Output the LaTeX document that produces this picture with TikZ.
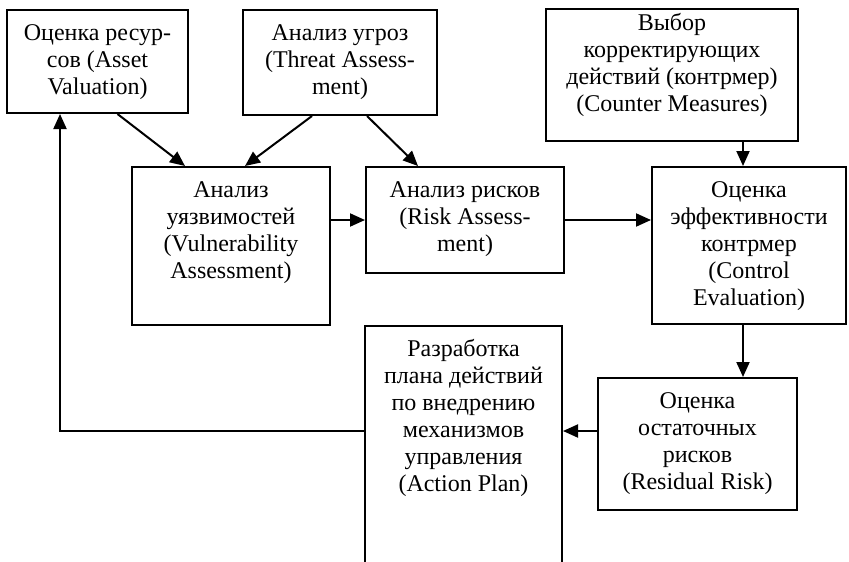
\documentclass[tikz,border=0pt]{standalone}
\usepackage{fontspec}
\setmainfont{Liberation Serif}
\usetikzlibrary{arrows.meta}
\newcommand\boxfont{\fontsize{24}{27}\selectfont}
\begin{document}
\begin{tikzpicture}[x=1pt,y=-1pt,
  block/.style={draw, rectangle, line width=2pt, inner sep=0pt},
  caption/.style={anchor=north, align=center, inner sep=0pt, font=\boxfont},
  link/.style={line width=2pt, -{Triangle[length=15pt,width=13pt]}}]
\useasboundingbox (0,0) rectangle (849,562);

% boxes
\node[block, minimum width=181pt, minimum height=103pt] (asset) at (97.5,61.5) {};
\node[block, minimum width=194pt, minimum height=105pt] (threat) at (340,62.5) {};
\node[block, minimum width=252pt, minimum height=132pt] (cm) at (672,75) {};
\node[block, minimum width=198pt, minimum height=158pt] (vuln) at (231,246) {};
\node[block, minimum width=198pt, minimum height=106pt] (risk) at (465,220) {};
\node[block, minimum width=194pt, minimum height=157pt] (ctrl) at (749,245.5) {};
\node[block, minimum width=197pt, minimum height=260pt] (plan) at (463.5,456) {};
\node[block, minimum width=199pt, minimum height=132pt] (res) at (697.5,444) {};

% captions
\node[caption] (asset-t) at ([yshift=-12pt]asset.north) {\strut Оценка ресур-\\сов (Asset\\Valuation)};
\node[caption] (threat-t) at ([yshift=-12pt]threat.north) {\strut Анализ угроз\\(Threat Assess-\\ment)};
\node[caption] (cm-t) at ([yshift=-3pt]cm.north) {\strut Выбор\\корректирующих\\действий (контрмер)\\(Counter Measures)};
\node[caption] (vuln-t) at ([yshift=-12pt]vuln.north) {\strut Анализ\\уязвимостей\\(Vulnerability\\Assessment)};
\node[caption] (risk-t) at ([yshift=-12pt]risk.north) {\strut Анализ рисков\\(Risk Assess-\\ment)};
\node[caption] (ctrl-t) at ([yshift=-12pt]ctrl.north) {\strut Оценка\\эффективности\\контрмер\\(Control\\Evaluation)};
\node[caption] (plan-t) at ([yshift=-12pt]plan.north) {\strut Разработка\\плана действий\\по внедрению\\механизмов\\управления\\(Action Plan)};
\node[caption] (res-t) at ([yshift=-12pt]res.north) {\strut Оценка\\остаточных\\рисков\\(Residual Risk)};

% connectors
\draw[link] ([xshift=20pt]asset.south) -- ([xshift=-46pt]vuln.north);
\draw[link] ([xshift=-28pt]threat.south) -- ([xshift=14pt]vuln.north);
\draw[link] ([xshift=27pt]threat.south) -- ([xshift=-47pt]risk.north);
\draw[link] (risk.west -| vuln.east) -- (risk.west);
\draw[link] (risk.east) -- (risk.east -| ctrl.west);

\coordinate (ce) at ([xshift=-6pt]ctrl.north);
\draw[link] (ce |- cm.south) -- (ce);
\draw[link] (ce |- ctrl.south) -- (ce |- res.north);

\coordinate (r1) at ([yshift=13pt]res.west);
\draw[link] (r1) -- (r1 -| plan.east);

\coordinate (fb) at ([xshift=-37.5pt]asset.south);
\draw[link] (r1 -| plan.west) -| (fb);
\end{tikzpicture}
\end{document}
